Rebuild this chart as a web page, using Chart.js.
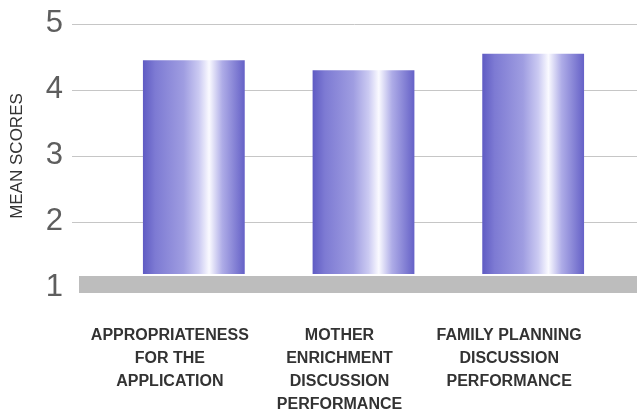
<!DOCTYPE html>
<html>
<head>
<meta charset="utf-8">
<script src="https://cdn.jsdelivr.net/npm/chart.js@4"></script>
<style>
html, body { margin: 0; padding: 0; background: #fff; }
</style>
</head>
<body>
<canvas id="chart" width="637" height="410"></canvas>
<script>
// categories and mean scores
const categories = [
    ['APPROPRIATENESS', 'FOR THE', 'APPLICATION'],
    ['MOTHER', 'ENRICHMENT', 'DISCUSSION', 'PERFORMANCE'],
    ['FAMILY PLANNING', 'DISCUSSION', 'PERFORMANCE']
];
const meanScores = [4.45, 4.3, 4.55];
const yTicks = [1, 2, 3, 4, 5];
const barShare = 0.6;

// horizontal "cylinder" shading for each bar
function barFill(context) {
    const chart = context.chart;
    const xs = chart.scales.x;
    if (!xs || !chart.chartArea) return '#7b78d0';
    const w = xs.width / categories.length * barShare;
    const cx = xs.getPixelForValue(context.dataIndex);
    const g = chart.ctx.createLinearGradient(cx - w / 2, 0, cx + w / 2, 0);
    g.addColorStop(0, '#5f5bc3');
    g.addColorStop(0.12, '#7d7ad3');
    g.addColorStop(0.4, '#9f9de1');
    g.addColorStop(0.55, '#cbcaf2');
    g.addColorStop(0.65, '#fafaff');
    g.addColorStop(0.78, '#aeace7');
    g.addColorStop(1, '#6561c7');
    return g;
}

// grid lines that run under the tick labels, and the grey floor at 1
const backdrop = {
    id: 'backdrop',
    beforeDatasetsDraw(chart) {
        const { ctx, chartArea, scales: { y } } = chart;
        ctx.save();
        ctx.strokeStyle = '#c6c6c6';
        ctx.lineWidth = 1;
        yTicks.slice(1).forEach(v => {
            const py = Math.round(y.getPixelForValue(v)) + 0.5;
            ctx.beginPath();
            ctx.moveTo(chartArea.left - 37, py);
            ctx.lineTo(chart.width, py);
            ctx.stroke();
        });
        ctx.restore();
    },
    afterDatasetsDraw(chart) {
        const { ctx, chartArea, scales: { y } } = chart;
        const base = y.getPixelForValue(yTicks[0]);
        ctx.save();
        ctx.fillStyle = '#ffffff';
        ctx.fillRect(chartArea.left - 30, base - 14, chart.width, 2);
        ctx.fillStyle = '#bdbdbd';
        ctx.fillRect(chartArea.left - 30, base - 12, chart.width, 17);
        ctx.restore();
    }
};

new Chart(document.getElementById('chart').getContext('2d'), {
    type: 'bar',
    data: {
        labels: categories,
        datasets: [{
            data: meanScores,
            backgroundColor: barFill,
            borderWidth: 0,
            barPercentage: barShare,
            categoryPercentage: 1
        }]
    },
    options: {
        responsive: false,
        animation: false,
        layout: { padding: { top: 24, right: 19, left: 0, bottom: 0 } },
        plugins: {
            legend: { display: false },
            tooltip: { enabled: false }
        },
        scales: {
            x: {
                grid: { display: false },
                border: { display: false },
                afterFit(scale) {
                    scale.height = 122;
                    scale.paddingLeft = 0;
                    scale.paddingRight = 0;
                },
                ticks: {
                    autoSkip: false,
                    maxRotation: 0,
                    padding: 28,
                    labelOffset: -24,
                    color: '#333333',
                    font: { family: '"Liberation Sans", Arial, sans-serif', size: 16, weight: 'bold', lineHeight: 1.44 }
                }
            },
            y: {
                min: 1,
                max: 5,
                grid: { display: false, drawTicks: false },
                border: { display: false },
                afterFit(scale) {
                    scale.width = 109;
                    scale.paddingTop = 0;
                    scale.paddingBottom = 0;
                },
                ticks: {
                    stepSize: 1,
                    padding: 46,
                    labelOffset: -1,
                    color: '#5e5e5e',
                    font: { family: '"Liberation Sans", Arial, sans-serif', size: 31 }
                },
                title: {
                    display: true,
                    text: 'MEAN SCORES',
                    color: '#333333',
                    padding: { top: 7, bottom: 0 },
                    font: { family: '"Liberation Sans", Arial, sans-serif', size: 17 }
                }
            }
        }
    },
    plugins: [backdrop]
});
</script>
</body>
</html>
